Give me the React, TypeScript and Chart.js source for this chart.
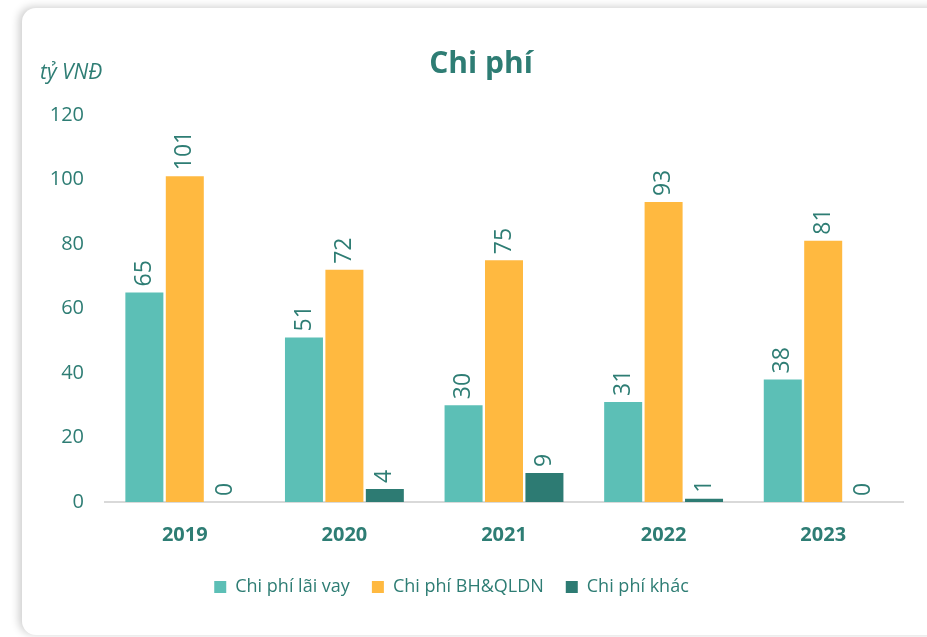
import React, { useEffect, useRef } from "react";
import { Chart, registerables } from "chart.js";

Chart.register(...registerables);

const years = ["2019", "2020", "2021", "2022", "2023"];
const laiVay = [65, 51, 30, 31, 38];
const bhQldn = [101, 72, 75, 93, 81];
const khac = [0, 4, 9, 1, 0];
const seriesNames = ["Chi phí lãi vay", "Chi phí BH&QLDN", "Chi phí khác"];
const yMin = 0;
const yMax = 120;
const yStep = 20;
const titleText = "Chi phí";
const unitText = "tỷ VNĐ";

const TEXT = "#2E7D74";
const COLORS = ["#5CBFB6", "#FFB940", "#2D7B73"];
const FONT = "'Open Sans', 'Noto Sans', sans-serif";

const labelPlugin = {
  id: "valueLabels",
  afterDatasetsDraw(chart: any) {
    const ctx = chart.ctx;
    ctx.save();
    ctx.fillStyle = TEXT;
    ctx.font = `23px ${FONT}`;
    ctx.textAlign = "left";
    ctx.textBaseline = "middle";
    chart.data.datasets.forEach((ds: any, i: number) => {
      const meta = chart.getDatasetMeta(i);
      meta.data.forEach((bar: any, j: number) => {
        const v = ds.data[j];
        ctx.save();
        ctx.translate(bar.x, bar.y - 6);
        ctx.rotate(-Math.PI / 2);
        ctx.fillText(String(v), 0, 0);
        ctx.restore();
      });
    });
    ctx.font = `bold 30px ${FONT}`;
    ctx.textAlign = "center";
    ctx.textBaseline = "alphabetic";
    ctx.fillText(titleText, 481, 73);
    ctx.font = `italic 21px ${FONT}`;
    ctx.textAlign = "left";
    ctx.fillText(unitText, 40, 79);
    ctx.restore();
  },
};

export default function App() {
  const ref = useRef<HTMLCanvasElement>(null);
  useEffect(() => {
    Chart.defaults.font.family = FONT;
    const chart = new Chart(ref.current as HTMLCanvasElement, {
      type: "bar",
      data: {
        labels: years,
        datasets: [
          { label: seriesNames[0], data: laiVay, backgroundColor: COLORS[0] },
          { label: seriesNames[1], data: bhQldn, backgroundColor: COLORS[1] },
          { label: seriesNames[2], data: khac, backgroundColor: COLORS[2] },
        ],
      },
      options: {
        responsive: false,
        animation: false,
        maintainAspectRatio: false,
        layout: { padding: { left: 0, right: 24, top: 115, bottom: 31 } },
        datasets: {
          bar: { categoryPercentage: 0.76, barPercentage: 0.94 },
        } as any,
        scales: {
          x: {
            grid: { display: false, drawTicks: false },
            border: { display: true, color: "#D9D9D9", width: 2 },
            ticks: {
              color: TEXT,
              padding: 21,
              font: { size: 20, weight: "bold" },
            },
            afterFit(scale: any) {
              scale.height = 54;
            },
          },
          y: {
            min: yMin,
            max: yMax,
            grid: { display: false, drawTicks: false },
            border: { display: false },
            ticks: {
              stepSize: yStep,
              color: TEXT,
              padding: 21,
              font: { size: 20 },
            },
            afterFit(scale: any) {
              scale.width = 105;
            },
          },
        },
        plugins: {
          legend: {
            position: "bottom",
            labels: {
              boxWidth: 12,
              boxHeight: 12,
              padding: 22,
              color: TEXT,
              font: { size: 18 },
            },
          },
          title: { display: false },
          tooltip: { enabled: false },
        },
      },
      plugins: [labelPlugin],
    });
    return () => chart.destroy();
  }, []);

  return (
    <div
      style={{
        position: "fixed",
        left: 0,
        top: 0,
        width: 927,
        height: 637,
        overflow: "hidden",
        background: "#fff",
      }}
    >
      <div
        style={{
          position: "absolute",
          left: 22,
          top: 8,
          width: 960,
          height: 627,
          borderRadius: 14,
          background: "#fff",
          boxShadow: "-3px -1px 8px rgba(0,0,0,0.2)",
        }}
      />
      <canvas
        ref={ref}
        width={927}
        height={637}
        style={{ position: "absolute", left: 0, top: 0, width: 927, height: 637 }}
      />
    </div>
  );
}
